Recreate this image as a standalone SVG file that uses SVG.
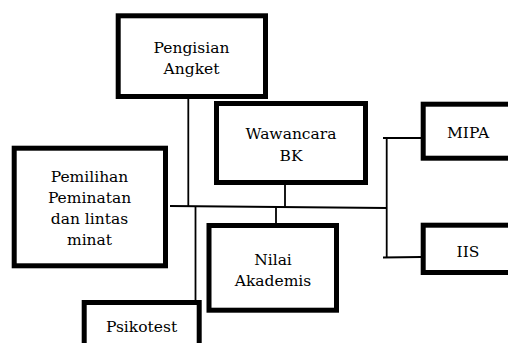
<svg xmlns="http://www.w3.org/2000/svg" width="508" height="343" viewBox="0 0 508 343">
<style>
.box{fill:#fff;stroke:#000;stroke-width:5}
.t{font-family:"DejaVu Serif",serif;font-size:15.5px;text-anchor:middle;fill:#000}
.ln{stroke:#000;stroke-width:1.8;fill:none}
</style>
<rect width="508" height="343" fill="#fff"/>
<g id="connectors">
<line class="ln" x1="188.3" y1="98" x2="188.3" y2="206.5"/>
<line class="ln" x1="285" y1="184" x2="285" y2="206.8"/>
<line class="ln" x1="170" y1="206" x2="387" y2="208"/>
<line class="ln" x1="195.5" y1="206.3" x2="195.5" y2="301"/>
<line class="ln" x1="276" y1="207" x2="276" y2="224"/>
<line class="ln" x1="386.7" y1="138" x2="386.7" y2="257.5"/>
<line class="ln" x1="383" y1="138" x2="421" y2="138"/>
<line class="ln" x1="383" y1="257.5" x2="421" y2="257"/>
</g>
<g id="pengisian">
<rect class="box" x="118.2" y="15.8" width="147.3" height="80.7"/>
<text class="t" x="191.5" y="53.3">Pengisian</text>
<text class="t" x="191.5" y="74">Angket</text>
</g>
<g id="wawancara">
<rect class="box" x="216.5" y="103.5" width="149" height="79"/>
<text class="t" x="291" y="139.3">Wawancara</text>
<text class="t" x="291" y="161.3">BK</text>
</g>
<g id="pemilihan">
<rect class="box" x="14.2" y="148.2" width="151.3" height="117.6"/>
<text class="t" x="89.5" y="181.7">Pemilihan</text>
<text class="t" x="89.5" y="202.8">Peminatan</text>
<text class="t" x="89.5" y="224.2">dan lintas</text>
<text class="t" x="89.5" y="245.2">minat</text>
</g>
<g id="nilai">
<rect class="box" x="209" y="225.5" width="127.5" height="84.7"/>
<text class="t" x="273" y="265">Nilai</text>
<text class="t" x="273" y="285.7">Akademis</text>
</g>
<g id="psikotest">
<rect class="box" x="84.2" y="302.5" width="115" height="60"/>
<text class="t" x="141.5" y="331.7">Psikotest</text>
</g>
<g id="mipa">
<rect class="box" x="423.2" y="104.2" width="100" height="54"/>
<text class="t" x="468" y="138">MIPA</text>
</g>
<g id="iis">
<rect class="box" x="423.2" y="225.2" width="100" height="47.3"/>
<text class="t" x="468" y="256.7">IIS</text>
</g>
</svg>
